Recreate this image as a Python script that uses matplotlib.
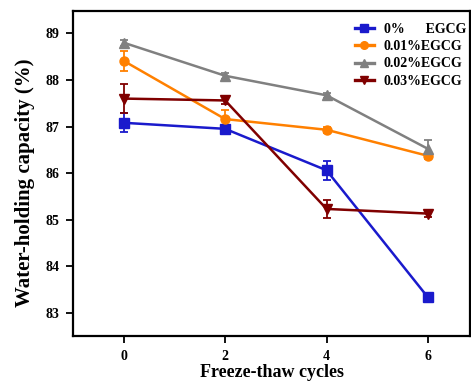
import matplotlib
matplotlib.use("Agg")
import matplotlib.pyplot as plt
from matplotlib.lines import Line2D

cycles = [0, 2, 4, 6]
labels = ["0%      EGCG", "0.01%EGCG", "0.02%EGCG", "0.03%EGCG"]
v0 = [87.08, 86.95, 86.06, 83.33]
e0 = [0.20, 0.05, 0.20, 0.06]
v1 = [88.41, 87.16, 86.93, 86.37]
e1 = [0.21, 0.20, 0.06, 0.06]
v2 = [88.80, 88.09, 87.67, 86.52]
e2 = [0.06, 0.06, 0.05, 0.18]
v3 = [87.60, 87.56, 85.23, 85.13]
e3 = [0.31, 0.07, 0.19, 0.07]

colors = ["#1a1acc", "#ff8000", "#808080", "#800000"]
markers = ["s", "o", "^", "v"]

plt.rcParams['font.family'] = ['Liberation Serif', 'DejaVu Serif']
plt.rcParams['font.weight'] = 'bold'

fig = plt.figure(figsize=(4.71, 3.81), dpi=100)
ax = fig.add_axes([0.155, 0.118, 0.843, 0.853])

handles = []
for vals, errs, c, m, lab in zip([v0, v1, v2, v3], [e0, e1, e2, e3], colors, markers, labels):
    ax.errorbar(cycles, vals, yerr=errs, color=c, marker=m, markersize=6.5,
                linewidth=1.8, elinewidth=1.3, capsize=3, capthick=1.3)
    handles.append(Line2D([], [], color=c, marker=m, markersize=5.5, linewidth=2.4, label=lab))

ax.set_xlim(-1, 6.83)
ax.set_ylim(82.5, 89.48)
ax.set_xticks([0, 2, 4, 6])
ax.set_yticks([83, 84, 85, 86, 87, 88, 89])
for s in ax.spines.values():
    s.set_linewidth(1.6)
ax.tick_params(direction='out', width=1.3, length=5, labelsize=10, pad=5)
for t in ax.get_xticklabels() + ax.get_yticklabels():
    t.set_fontweight('bold')
ax.set_xlabel("Freeze-thaw cycles", fontsize=13, fontweight='bold', labelpad=1)
ax.set_ylabel("Water-holding capacity (%)", fontsize=15, fontweight='bold')
ax.yaxis.set_label_coords(-0.095, 0.472)
leg = ax.legend(handles=handles, loc='upper right', frameon=False,
                prop={'weight': 'bold', 'size': 10},
                handlelength=1.4, handletextpad=0.7, labelspacing=0.3,
                borderaxespad=0.0, bbox_to_anchor=(1.004, 0.98))

fig.savefig("out.png", dpi=100)
